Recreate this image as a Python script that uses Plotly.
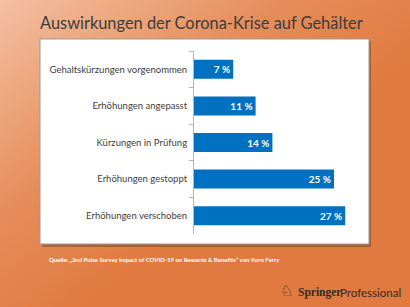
import base64
import plotly.graph_objects as go

categories = ["Gehaltskürzungen vorgenommen", "Erhöhungen angepasst", "Kürzungen in Prüfung",
              "Erhöhungen gestoppt", "Erhöhungen verschoben"]
values = [7, 11, 14, 25, 27]
labels = ["7 %", "11 %", "14 %", "25 %", "27 %"]
title = "Auswirkungen der Corona-Krise auf Gehälter"
source = "Quelle: „2nd Pulse Survey Impact of COVID-19 on Rewards & Benefits“ von Korn Ferry"

W, H = 410, 307
L, R, T, B = 194, 48, 51, 73
PW, PH = W - L - R, H - T - B

def px(x):
    return (x - L) / PW

def py(y):
    return (H - B - y) / PH

svg = ('<svg xmlns="http://www.w3.org/2000/svg" width="410" height="307">'
       '<defs><linearGradient id="g" x1="0" y1="0" x2="1" y2="1">'
       '<stop offset="0" stop-color="#f3c0a2"/><stop offset="0.35" stop-color="#e58d5a"/>'
       '<stop offset="0.6" stop-color="#e07a40"/><stop offset="1" stop-color="#e07a40"/>'
       '</linearGradient></defs><rect width="410" height="307" fill="url(#g)"/></svg>')
bg = "data:image/svg+xml;base64," + base64.b64encode(svg.encode()).decode()

fig = go.Figure(go.Bar(
    x=values, y=categories, orientation="h", width=0.52,
    marker=dict(color="#0070c0", line=dict(width=0)),
    text=labels, textposition="inside", insidetextanchor="end",
    textfont=dict(family="Lato", size=10, color="white", weight="bold"),
    cliponaxis=False,
))

shapes = [
    dict(type="rect", xref="paper", yref="paper", x0=px(42), x1=px(371), y0=py(41), y1=py(247),
         fillcolor="rgba(80,40,20,0.35)", line=dict(width=0), layer="below"),
    dict(type="rect", xref="paper", yref="paper", x0=px(40), x1=px(369), y0=py(39), y1=py(244),
         fillcolor="white", line=dict(color="#9a9a9a", width=1), layer="below"),
]

annotations = [
    dict(text=title, xref="paper", yref="paper", x=px(201), y=py(22), xanchor="center", yanchor="middle",
         showarrow=False, font=dict(family="Lato", size=16.4, color="#3c3c3c")),
    dict(text=source, xref="paper", yref="paper", x=px(47), y=py(259), xanchor="left", yanchor="middle",
         showarrow=False, font=dict(family="Lato", size=6, color="white", weight="bold")),
    dict(text="♘", xref="paper", yref="paper", x=px(286), y=py(291), xanchor="center", yanchor="middle",
         showarrow=False, font=dict(family="DejaVu Sans", size=15, color="#2e2a28")),
    dict(text="Springer", xref="paper", yref="paper", x=px(296), y=py(292), xanchor="left", yanchor="middle",
         showarrow=False, font=dict(family="Liberation Serif", size=11.5, color="#2e2a28", weight="bold")),
    dict(text="Professional", xref="paper", yref="paper", x=px(403), y=py(292), xanchor="right", yanchor="middle",
         showarrow=False, font=dict(family="Lato", size=11.5, color="#2e2a28")),
]

fig.update_layout(
    width=W, height=H,
    margin=dict(l=L, r=R, t=T, b=B, pad=0),
    paper_bgcolor="#e07a40", plot_bgcolor="rgba(0,0,0,0)",
    showlegend=False,
    images=[dict(source=bg, xref="paper", yref="paper", x=px(0), y=py(0), sizex=W / PW, sizey=H / PH,
                 xanchor="left", yanchor="top", sizing="stretch", layer="below")],
    shapes=shapes, annotations=annotations,
    xaxis=dict(range=[0, 30], visible=False, fixedrange=True),
    yaxis=dict(autorange=False, range=[4.5, -0.5], type="category", categoryorder="array",
               categoryarray=categories, showline=True, linecolor="#b5b5b5", linewidth=1,
               ticks="outside", tickson="boundaries", ticklen=4, tickcolor="#b5b5b5",
               showgrid=False, zeroline=False, ticklabelstandoff=4, fixedrange=True,
               tickfont=dict(family="Lato", size=9.5, color="#404040")),
    font=dict(family="Lato"),
)

fig.write_html("out.html", config={"displayModeBar": False},
               post_script="document.body.style.margin='0';document.body.style.overflow='hidden';")
